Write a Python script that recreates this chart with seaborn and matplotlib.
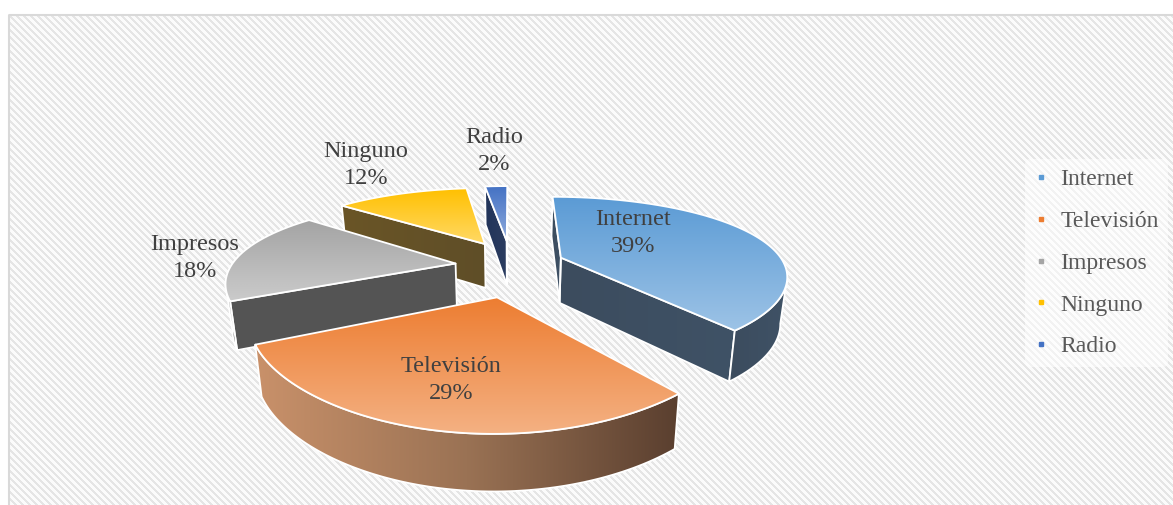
import numpy as np
import matplotlib
matplotlib.use("Agg")
import matplotlib.pyplot as plt
import seaborn as sns
from matplotlib.patches import Polygon, Rectangle
from matplotlib.lines import Line2D

# ---------------- data ----------------
categories = ["Internet", "Televisión", "Impresos", "Ninguno", "Radio"]
values = [39, 29, 18, 12, 2]
pct_labels = ["39%", "29%", "18%", "12%", "2%"]

# ---------------- styles ----------------
main_colors = ["#5B9BD5", "#ED7D31", "#A5A5A5", "#FFC000", "#4472C4"]
top_grad = [["#5B9BD5", "#9DC3E6"], ["#ED7D31", "#F4B183"], ["#A3A3A3", "#CBCBCB"],
            ["#FFC000", "#FFD966"], ["#4472C4", "#8FAADC"]]
wall_grad = [["#3C4C5E", "#3F5266"], ["#C9916A", "#9A7254", "#5A3F2F"], ["#555555", "#545454"],
             ["#6A5526", "#5F4E28"], ["#22345A", "#2C3D60"]]
label_pos = [(633, 233), (451, 380), (195, 258), (366, 165), (494, 151)]

sns.set_theme(style="white")
plt.rcParams["font.family"] = ["Liberation Serif", "DejaVu Serif"]

W, H = 1173, 505
fig = plt.figure(figsize=(W / 100, H / 100), dpi=100)
ax = fig.add_axes([0, 0, 1, 1])

# background with diagonal stripes
yy, xx = np.mgrid[0:H, 0:W]
stripe = ((xx - yy) % 7) < 3
bg = np.where(stripe[..., None], np.array([0.9, 0.9, 0.9]), np.array([0.985, 0.985, 0.985]))
ax.imshow(bg, extent=(0, W, H, 0), interpolation="nearest", aspect="auto", zorder=0)
ax.add_patch(Rectangle((0, 0), W, 14, facecolor="white", edgecolor="none", zorder=1))
ax.add_patch(Rectangle((0, 0), 8, H, facecolor="white", edgecolor="none", zorder=1))
ax.add_patch(Rectangle((8.5, 14.5), W, H, fill=False, edgecolor="#D9D9D9", linewidth=1.5, zorder=2))

# ---------------- projection (layout) ----------------
X0, Y0, S, T = 510.0, 267.0, 225.0, 81.0
KX, KY = 0.20, 0.26
EX, EY = 0.246, 0.35
DEPTH, KD, CONV = 46.0, 0.15, 0.975


def proj(u, v):
    return X0 + S * u / (1 + KX * v), Y0 - T * v / (1 + KY * v)


def proj_bottom(u, v):
    x, y = proj(u, v)
    return X0 + (x - X0) * CONV, y + DEPTH / (1 + KD * v)


def grad_poly(xy, colors, horizontal, z):
    xy = np.asarray(xy)
    patch = Polygon(xy, closed=True, facecolor="none", edgecolor="none", zorder=z)
    ax.add_patch(patch)
    pal = np.array(sns.blend_palette(colors, n_colors=256))[:, :3]
    img = pal[None, :, :] if horizontal else pal[:, None, :]
    x0, x1 = xy[:, 0].min(), xy[:, 0].max()
    y0, y1 = xy[:, 1].min(), xy[:, 1].max()
    im = ax.imshow(img, extent=(x0, x1, y1, y0), aspect="auto",
                   interpolation="bilinear", zorder=z)
    im.set_clip_path(patch)
    ax.add_patch(Polygon(xy, closed=True, fill=False, edgecolor="white",
                         linewidth=1.3, joinstyle="round", zorder=z + 0.001))


total = float(sum(values))
ends = np.cumsum(values) / total * 360.0
starts = ends - np.array(values) / total * 360.0
mids = (starts + ends) / 2

order = np.argsort(-np.cos(np.radians(mids)))
z = 5
for i in order:
    m = np.radians(mids[i])
    du, dv = EX * np.sin(m), EY * np.cos(m)
    th = np.radians(np.linspace(starts[i], ends[i], max(int(values[i] / total * 720), 4)))
    u = du + np.sin(th)
    v = dv + np.cos(th)
    tx, ty = proj(u, v)
    bx, by = proj_bottom(u, v)
    ax_, ay_ = proj(du, dv)
    abx, aby = proj_bottom(du, dv)

    # radial walls
    if tx[0] < ax_:
        grad_poly([(ax_, ay_), (tx[0], ty[0]), (bx[0], by[0]), (abx, aby)],
                  wall_grad[i], True, z)
    if ax_ < tx[-1]:
        grad_poly([(tx[-1], ty[-1]), (ax_, ay_), (abx, aby), (bx[-1], by[-1])],
                  wall_grad[i], True, z)
    # outer wall, visible runs
    vis = np.diff(tx) < 0
    j = 0
    n = len(vis)
    while j < n:
        if vis[j]:
            k0 = j
            while j < n and vis[j]:
                j += 1
            k1 = j
            top = list(zip(tx[k0:k1 + 1], ty[k0:k1 + 1]))
            bot = list(zip(bx[k0:k1 + 1], by[k0:k1 + 1]))[::-1]
            grad_poly(top + bot, wall_grad[i], True, z + 0.1)
        else:
            j += 1
    # top face
    face = [(ax_, ay_)] + list(zip(tx, ty))
    grad_poly(face, top_grad[i], False, z + 0.5)
    z += 1

# data labels
for cat, pct, (lx, ly) in zip(categories, pct_labels, label_pos):
    ax.text(lx, ly, f"{cat}\n{pct}", ha="center", va="center", fontsize=17.5,
            color="#404040", linespacing=1.32, zorder=50)

# legend
handles = [Line2D([], [], linestyle="none", marker="s", markersize=2.2,
                  markerfacecolor=c, markeredgecolor=c) for c in main_colors]
leg = fig.legend(handles, categories, loc="center left",
                 bbox_to_anchor=(1013 / W, 1 - 263 / H), frameon=True,
                 fontsize=17, handlelength=0.6, handletextpad=0.5,
                 labelspacing=0.86, borderpad=0.4)
leg.get_frame().set_facecolor("white")
leg.get_frame().set_alpha(0.5)
leg.get_frame().set_edgecolor("none")
for t in leg.get_texts():
    t.set_color("#595959")

ax.set_xlim(0, W)
ax.set_ylim(H, 0)
ax.axis("off")
fig.savefig("out.png", dpi=100)
